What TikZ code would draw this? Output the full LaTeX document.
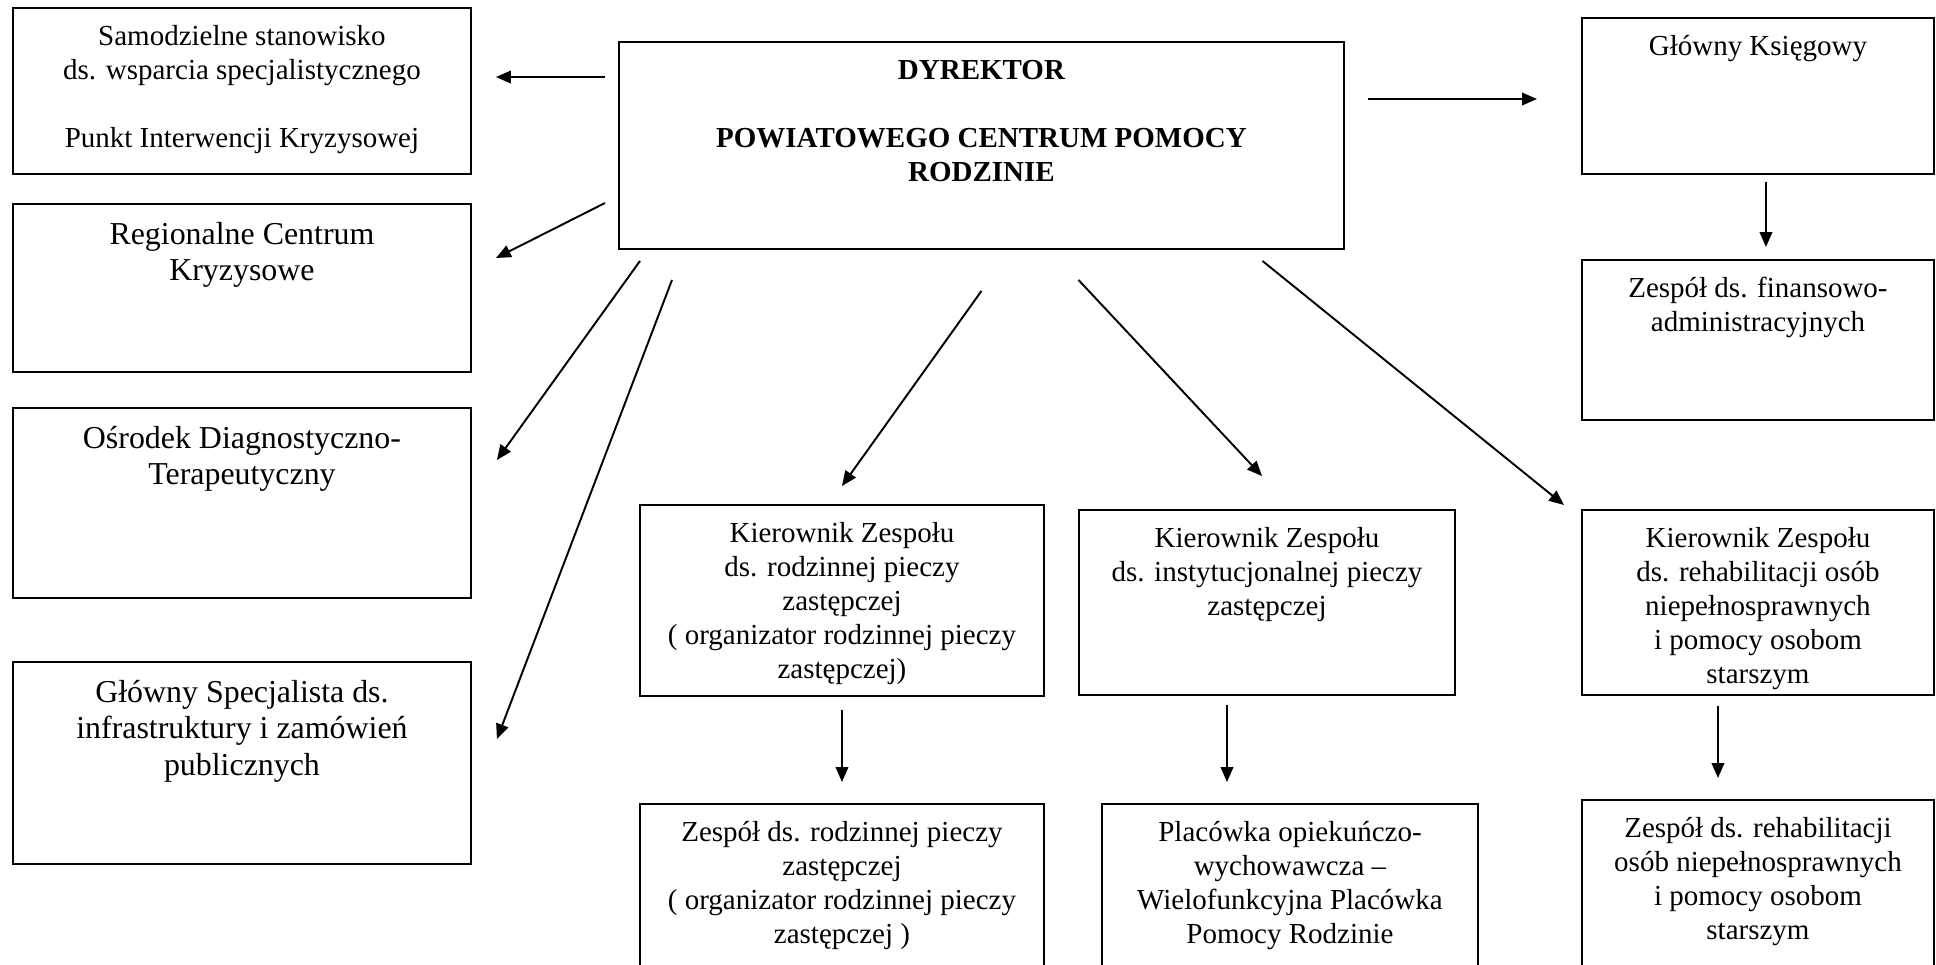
\documentclass[tikz,border=0pt]{standalone}
\usepackage{fontspec}
\setmainfont{Liberation Serif}
\usepackage{tikz}
\usetikzlibrary{arrows.meta}

\newdimen\px
\px=0.4138pt

\begin{document}
\begin{tikzpicture}[x=0.4138pt, y=-0.4138pt, line width=0.8pt, >={Triangle[length=6.2pt,width=5.2pt]},
    orgbox/.style 2 args={draw, inner sep=0pt, anchor=north west,
        font={\fontsize{12}{14}\selectfont},
        execute at begin node={\begin{minipage}[c][#2\px][t]{#1\px}\centering\rule{0pt}{1.12\baselineskip}},
        execute at end node={\end{minipage}}},
    bigtext/.style={font={\fontsize{13.2}{15}\selectfont}}]
    \useasboundingbox (0,0) rectangle (1936,964);
    \clip (0,0) rectangle (1936,964);

    % left column
    \node[orgbox={458}{166}] (samodz) at (12,7) {Samodzielne stanowisko\\ ds. wsparcia specjalistycznego\\[\baselineskip] Punkt Interwencji Kryzysowej};
    \node[orgbox={458}{168}, bigtext] (region) at (12,203) {Regionalne Centrum\\ Kryzysowe};
    \node[orgbox={458}{190}, bigtext] (osrodek) at (12,407) {Ośrodek Diagnostyczno-\\ Terapeutyczny};
    \node[orgbox={458}{202}, bigtext] (specj) at (12,661) {Główny Specjalista ds.\\ infrastruktury i zamówień\\ publicznych};

    % director
    \node[orgbox={725}{207}] (dyr) at (618,41) {\bfseries DYREKTOR\\[\baselineskip] POWIATOWEGO CENTRUM POMOCY\\ RODZINIE};

    % right column
    \node[orgbox={352}{156}] (ksieg) at (1581,17) {Główny Księgowy};
    \node[orgbox={352}{160}] (finans) at (1581,259) {Zespół ds. finansowo-\\ administracyjnych};

    % teams
    \node[orgbox={404}{191}] (kierrodz) at (639,504) {Kierownik Zespołu\\ ds. rodzinnej pieczy\\ zastępczej\\ ( organizator rodzinnej pieczy\\ zastępczej)};
    \node[orgbox={376}{185}] (kierinst) at (1078,509) {Kierownik Zespołu\\ ds. instytucjonalnej pieczy\\ zastępczej};
    \node[orgbox={352}{185}] (kierreh) at (1581,509) {Kierownik Zespołu\\ ds. rehabilitacji osób\\ niepełnosprawnych\\ i pomocy osobom\\ starszym};

    \node[orgbox={404}{200}] (zesrodz) at (639,803) {Zespół ds. rodzinnej pieczy\\ zastępczej\\ ( organizator rodzinnej pieczy\\ zastępczej )};
    \node[orgbox={376}{200}] (placowka) at (1101,803) {Placówka opiekuńczo-\\ wychowawcza –\\ Wielofunkcyjna Placówka\\ Pomocy Rodzinie};
    \node[orgbox={352}{200}] (zesreh) at (1581,799) {Zespół ds. rehabilitacji\\ osób niepełnosprawnych\\ i pomocy osobom\\ starszym};

    % arrows from the director
    \draw[->] ([shift={(-13,36)}]dyr.north west) -- ([shift={(24,70)}]samodz.north east);
    \draw[->] ([shift={(-13,162)}]dyr.north west) -- ([shift={(24,55)}]region.north east);
    \draw[->] ([shift={(22,11)}]dyr.south west) -- ([shift={(25,53)}]osrodek.north east);
    \draw[->] ([shift={(54,30)}]dyr.south west) -- ([shift={(25,78)}]specj.north east);
    \draw[->] ([shift={(0,41)}]dyr.south) -- ([shift={(0,-18)}]kierrodz.north);
    \draw[->] ([shift={(97,30)}]dyr.south) -- ([shift={(184,-33)}]kierinst.north west);
    \draw[->] ([shift={(281,11)}]dyr.south) -- ([shift={(-17,-4)}]kierreh.north west);
    \draw[->] ([shift={(23,58)}]dyr.north east) -- ([shift={(-44,82)}]ksieg.north west);

    % arrows down
    \draw[->] ([shift={(8,7)}]ksieg.south) -- ([shift={(8,-12)}]finans.north);
    \draw[->] ([shift={(0,13)}]kierrodz.south) -- ([shift={(0,-21)}]zesrodz.north);
    \draw[->] ([shift={(149,9)}]kierinst.south west) -- ([shift={(126,-21)}]placowka.north west);
    \draw[->] ([shift={(-40,10)}]kierreh.south) -- ([shift={(-40,-21)}]zesreh.north);
\end{tikzpicture}
\end{document}
